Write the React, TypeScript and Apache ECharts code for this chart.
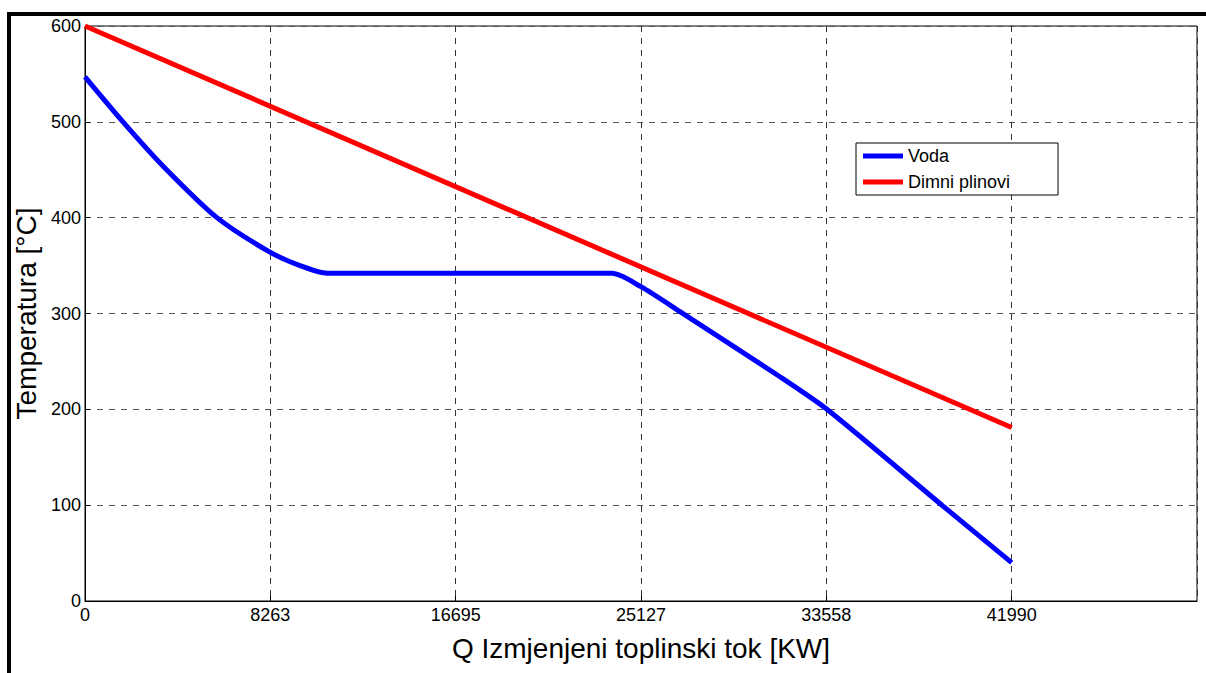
import React, { useEffect, useRef } from "react";
import * as echarts from "echarts";

// x-axis tick spacing (kW) and the printed tick labels
const X_TICK_STEP = 8398;
const xTickLabels = ["0", "8263", "16695", "25127", "33558", "41990"];
const yMin = 0;
const yMax = 600;
const yStep = 100;

// Voda (water) – Q [kW], T [°C]
const vodaQ = [0, 1720, 3530, 5980, 8380, 9740, 10970, 23880, 25190, 26960, 31490, 33620, 38880, 41990];
const vodaT = [547, 500, 454, 400, 364, 350, 342, 342, 328, 302, 234, 200, 99, 40];

// Dimni plinovi (flue gas) – Q [kW], T [°C]
const dimniQ = [0, 41990];
const dimniT = [600, 181];

const App: React.FC = () => {
  const ref = useRef<HTMLDivElement>(null);

  useEffect(() => {
    if (!ref.current) return;
    const chart = echarts.init(ref.current, undefined, { renderer: "svg" });
    const font = "Arial, 'Liberation Sans', Helvetica, sans-serif";
    const xMax = X_TICK_STEP * 6;

    chart.setOption({
      animation: false,
      backgroundColor: "#ffffff",
      textStyle: { fontFamily: font },
      grid: {
        left: 85,
        top: 26,
        width: 1112,
        height: 575,
        show: true,
        borderColor: "#000",
        borderWidth: 1,
        backgroundColor: "transparent",
      },
      legend: {
        left: 856,
        top: 143,
        orient: "vertical",
        backgroundColor: "#fff",
        borderColor: "#000",
        borderWidth: 1,
        padding: [4, 48, 4, 7],
        itemGap: 8,
        itemWidth: 40,
        itemHeight: 5,
        icon: "rect",
        textStyle: { fontSize: 18, color: "#000", fontFamily: font },
        data: ["Voda", "Dimni plinovi"],
      },
      xAxis: {
        type: "value",
        min: 0,
        max: xMax,
        interval: X_TICK_STEP,
        name: "Q Izmjenjeni toplinski tok [KW]",
        nameLocation: "middle",
        nameGap: 33,
        nameTextStyle: { fontSize: 28, color: "#000", fontFamily: font },
        axisLine: { show: true, lineStyle: { color: "#000", width: 1 } },
        axisTick: { show: true, inside: true, length: 5, lineStyle: { color: "#000" } },
        axisLabel: {
          fontSize: 18,
          color: "#000",
          margin: 5,
          fontFamily: font,
          showMaxLabel: false,
          formatter: (v: number) => xTickLabels[Math.round(v / X_TICK_STEP)] ?? "",
        },
        splitLine: { show: true, lineStyle: { color: "#333", type: [6, 6], width: 1 } },
      },
      yAxis: {
        type: "value",
        min: yMin,
        max: yMax,
        interval: yStep,
        name: "Temperatura [°C]",
        nameLocation: "middle",
        nameGap: 42,
        nameTextStyle: { fontSize: 28, color: "#000", fontFamily: font },
        axisLine: { show: true, lineStyle: { color: "#000", width: 1 } },
        axisTick: { show: true, inside: true, length: 5, lineStyle: { color: "#000" } },
        axisLabel: { fontSize: 18, color: "#000", margin: 4, fontFamily: font },
        splitLine: { show: true, lineStyle: { color: "#555", type: [6, 6], width: 1 } },
      },
      series: [
        {
          name: "Voda",
          type: "line",
          data: vodaQ.map((q, i) => [q, vodaT[i]]),
          smooth: 0.25,
          showSymbol: false,
          symbol: "none",
          itemStyle: { color: "#0000ff" },
          lineStyle: { color: "#0000ff", width: 5 },
          z: 3,
        },
        {
          name: "Dimni plinovi",
          type: "line",
          data: dimniQ.map((q, i) => [q, dimniT[i]]),
          showSymbol: false,
          symbol: "none",
          itemStyle: { color: "#ff0000" },
          lineStyle: { color: "#ff0000", width: 5 },
          z: 3,
        },
      ],
      graphic: [
        { type: "rect", left: 7, top: 12, shape: { width: 1199, height: 4 }, style: { fill: "#000" }, z: 10 },
        { type: "rect", left: 7, top: 12, shape: { width: 4, height: 661 }, style: { fill: "#000" }, z: 10 },
      ],
    });

    return () => chart.dispose();
  }, []);

  return (
    <div
      ref={ref}
      style={{ position: "absolute", left: 0, top: 0, width: 1206, height: 673, background: "#fff" }}
    />
  );
};

export default App;
